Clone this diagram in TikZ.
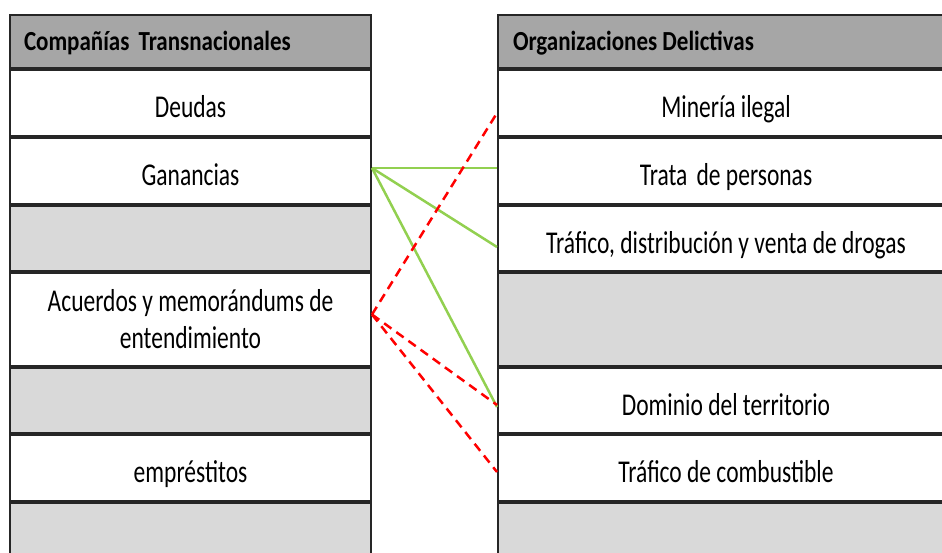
\documentclass[tikz,border=0pt]{standalone}
\usepackage{fontspec}
\usepackage{graphicx}
\setmainfont{Carlito}
\usetikzlibrary{positioning}
\definecolor{headgrey}{HTML}{A6A6A6}
\definecolor{rowgrey}{HTML}{D9D9D9}
\definecolor{linkgreen}{HTML}{92D050}
\newcommand{\tallrow}[1]{\scalebox{1}[1.35]{#1}}
\newcommand{\tallhead}[1]{\scalebox{1}[1.2]{#1}}
\begin{document}
\begin{tikzpicture}[x=1pt,y=-1pt,
  font=\fontsize{23.5}{37}\selectfont,
  node distance=0pt,
  cell/.style={draw=black!85,line width=2pt,fill=white,minimum height=66pt,inner sep=0pt,
    text height=31pt,text depth=1.6pt},
  lcell/.style={cell,minimum width=361pt},
  rcell/.style={cell,minimum width=456pt},
  head/.style={fill=headgrey,minimum height=53pt,font=\fontsize{23}{26}\selectfont\bfseries,
    text height=20pt,text depth=2.2pt},
  blank/.style={fill=rowgrey},
  good/.style={linkgreen,line width=2.5pt},
  bad/.style={red,line width=2.5pt,dash pattern=on 9pt off 6pt}]

%page frame
  \clip (0,0) rectangle (942,553);

%left table
  \node[lcell,head,anchor=north west] (lhead) at (9,14) {\makebox[333pt][l]{\tallhead{Compañías\, Transnacionales}}};
  \node[lcell,below=of lhead] (deudas) {\tallrow{Deudas}};
  \node[lcell,below=of deudas] (ganancias) {\tallrow{Ganancias}};
  \node[lcell,blank,minimum height=65pt,below=of ganancias] (lgap1) {};
  \node[lcell,minimum height=93pt,text height=,text depth=,align=center,below=of lgap1] (acuerdos)
    {\tallrow{Acuerdos y memorándums de}\\\tallrow{entendimiento}};
  \node[lcell,blank,minimum height=65pt,below=of acuerdos] (lgap2) {};
  \node[lcell,below=of lgap2] (emprestitos) {\tallrow{empréstitos}};
  \node[lcell,blank,minimum height=60pt,below=of emprestitos] (lgap3) {};

%right table
  \node[rcell,head,anchor=north west] (rhead) at (497,14) {\makebox[426pt][l]{\tallhead{Organizaciones Delictivas}}};
  \node[rcell,below=of rhead] (mineria) {\tallrow{Minería ilegal}};
  \node[rcell,below=of mineria] (trata) {\tallrow{Trata\, de personas}};
  \node[rcell,minimum height=65pt,below=of trata] (drogas) {\tallrow{Tráfico, distribución y venta de drogas}};
  \node[rcell,blank,minimum height=93pt,below=of drogas] (rgap1) {};
  \node[rcell,minimum height=65pt,below=of rgap1] (dominio) {\tallrow{Dominio del territorio}};
  \node[rcell,below=of dominio] (combustible) {\tallrow{Tráfico de combustible}};
  \node[rcell,blank,minimum height=60pt,below=of combustible] (rgap2) {};

%links
  \draw[good] ([yshift=3pt]ganancias.east) -- ([yshift=3pt]trata.west);
  \draw[good] ([yshift=3pt]ganancias.east) -- ([yshift=-8.5pt]drogas.west);
  \draw[good] ([yshift=3pt]ganancias.east) -- ([yshift=-6.5pt]dominio.west);
  \draw[bad] ([yshift=5pt]acuerdos.east) -- ([yshift=-10pt]mineria.west);
  \draw[bad] ([yshift=5pt]acuerdos.east) -- ([yshift=-4.5pt]dominio.west);
  \draw[bad] ([yshift=5pt]acuerdos.east) -- ([yshift=-4pt]combustible.west);

\end{tikzpicture}
\end{document}
